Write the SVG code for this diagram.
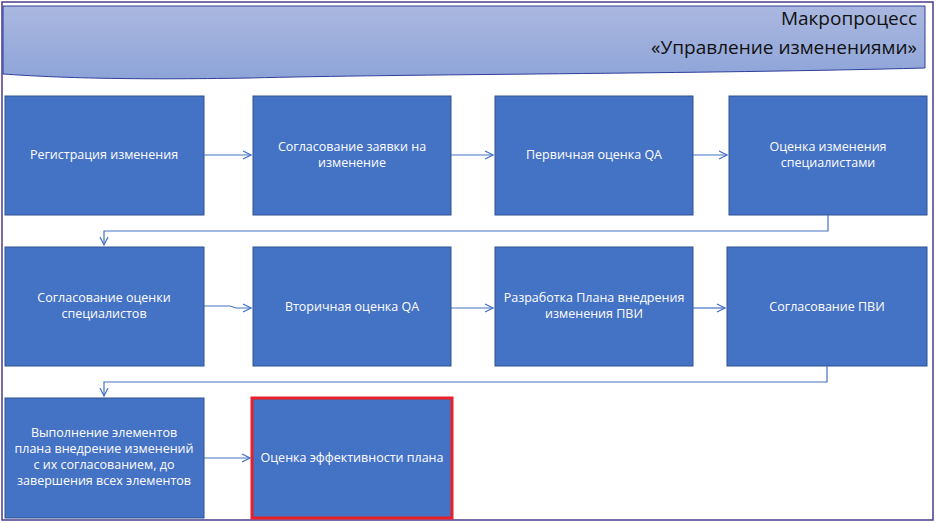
<svg xmlns="http://www.w3.org/2000/svg" width="937" height="523" viewBox="0 0 937 523">
<defs>
<linearGradient id="hg" x1="0" y1="0" x2="0" y2="1"><stop offset="0" stop-color="#aab8e0"/><stop offset="1" stop-color="#8ea4d8"/></linearGradient>
<marker id="ar" markerWidth="10" markerHeight="10" refX="9" refY="5" orient="auto" markerUnits="userSpaceOnUse"><path d="M1,1 L9,5 L1,9" fill="none" stroke="#4472c4" stroke-width="1.2"/></marker>
<style>
.b{fill:#4472c4;stroke:#2f528f;stroke-width:1}
.t{font-family:"Open Sans","Liberation Sans",sans-serif;font-size:12.5px;fill:#fff;text-anchor:middle}
.c{fill:none;stroke:#4472c4;stroke-width:1.2;marker-end:url(#ar)}
.h{font-family:"Open Sans","Liberation Sans",sans-serif;font-size:19px;fill:#111;text-anchor:end}
</style>
</defs>
<rect x="0" y="0" width="937" height="523" fill="#fff"/>
<rect x="2" y="2" width="931" height="518" fill="none" stroke="#4b3a8c" stroke-width="1.5"/>
<g id="header">
<path d="M3,6 H925 V68 C700,74 400,74 250,78 C130,80 60,78 3,74 Z" fill="url(#hg)" stroke="#2f3f9a" stroke-width="1"/>
<text class="h" x="917" y="25">Макропроцесс</text>
<text class="h" x="917" y="54">«Управление изменениями»</text>
</g>
<g id="n1"><rect class="b" x="5" y="96" width="199" height="119"/><text class="t" x="104" y="159">Регистрация изменения</text></g>
<g id="n2"><rect class="b" x="253" y="96" width="198" height="119"/><text class="t" x="352" y="151">Согласование заявки на</text><text class="t" x="352" y="167">изменение</text></g>
<g id="n3"><rect class="b" x="495" y="96" width="198" height="119"/><text class="t" x="594" y="159">Первичная оценка QA</text></g>
<g id="n4"><rect class="b" x="729" y="96" width="198" height="119"/><text class="t" x="828" y="151">Оценка изменения</text><text class="t" x="828" y="167">специалистами</text></g>
<g id="n5"><rect class="b" x="5" y="247" width="199" height="119"/><text class="t" x="104" y="302">Согласование оценки</text><text class="t" x="104" y="318">специалистов</text></g>
<g id="n6"><rect class="b" x="253" y="247" width="198" height="119"/><text class="t" x="352" y="311">Вторичная оценка QA</text></g>
<g id="n7"><rect class="b" x="495" y="247" width="198" height="119"/><text class="t" x="594" y="302">Разработка Плана внедрения</text><text class="t" x="594" y="318">изменения ПВИ</text></g>
<g id="n8"><rect class="b" x="727" y="247" width="200" height="119"/><text class="t" x="827" y="311">Согласование ПВИ</text></g>
<g id="n9"><rect class="b" x="5" y="398" width="199" height="120"/><text class="t" x="104" y="437">Выполнение элементов</text><text class="t" x="104" y="453">плана внедрение изменений</text><text class="t" x="104" y="469">с их согласованием, до</text><text class="t" x="104" y="485">завершения всех элементов</text></g>
<g id="n10"><rect x="252" y="398" width="200" height="120" fill="#4472c4" stroke="#e8202a" stroke-width="3"/><text class="t" x="352" y="462">Оценка эффективности плана</text></g>
<g id="connectors">
<path class="c" d="M204,155 H251"/>
<path class="c" d="M451,155 H493"/>
<path class="c" d="M693,155 H727"/>
<path class="c" d="M828,215 V231 H104 V245"/>
<path class="c" d="M204,306 H230 L236,308 H251"/>
<path class="c" d="M451,308 H493"/>
<path class="c" d="M693,308 H725"/>
<path class="c" d="M827,366 V382 H104 V396"/>
<path class="c" d="M204,458 H250"/>
</g>
</svg>
